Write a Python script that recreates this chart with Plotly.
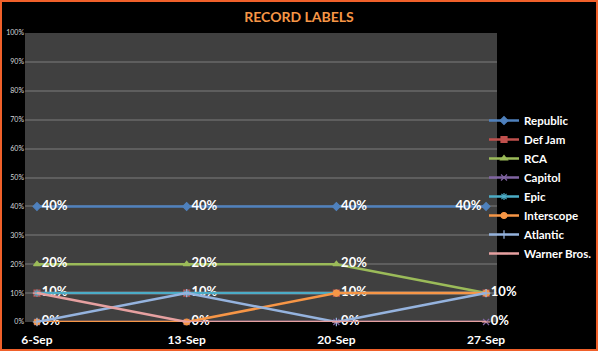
import plotly.graph_objects as go

categories = ["6-Sep", "13-Sep", "20-Sep", "27-Sep"]
series_names = ["Republic", "Def Jam", "RCA", "Capitol", "Epic", "Interscope", "Atlantic", "Warner Bros."]
republic = [0.40, 0.40, 0.40, 0.40]
def_jam = [0.10, 0.10, 0.10, 0.10]
rca = [0.20, 0.20, 0.20, 0.10]
capitol = [0.0, 0.0, 0.0, 0.0]
epic = [0.10, 0.10, 0.10, 0.10]
interscope = [0.0, 0.0, 0.10, 0.10]
atlantic = [0.0, 0.10, 0.0, 0.10]
warner = [0.10, 0.0, 0.0, 0.0]
y_ticks = [0, 0.1, 0.2, 0.3, 0.4, 0.5, 0.6, 0.7, 0.8, 0.9, 1.0]
y_tick_labels = ["0%", "10%", "20%", "30%", "40%", "50%", "60%", "70%", "80%", "90%", "100%"]

values = [republic, def_jam, rca, capitol, epic, interscope, atlantic, warner]
colors = ["#4F81BD", "#C0504D", "#9BBB59", "#8064A2", "#4BACC6", "#F79646", "#95B3DE", "#E6A0A0"]
symbols = ["diamond", "square", "triangle-up", "x-thin-open", "asterisk-open", "circle", "cross-thin-open", "line-ew-open"]

W, H = 598, 351
L, R, T, B = 25, 101, 33, 29
pw, ph = W - L - R, H - T - B

fig = go.Figure()
seen = set()
for name, vals, col, sym in zip(series_names, values, colors, symbols):
    texts, positions = [], []
    for i, v in enumerate(vals):
        key = (i, round(v, 4))
        if key in seen:
            texts.append("")
        else:
            seen.add(key)
            texts.append(f"{round(v*100)}%")
        positions.append("middle left" if (name == "Republic" and i == len(vals) - 1) else "middle right")
    fig.add_trace(go.Scatter(
        x=categories, y=vals, name=name, mode="lines+markers+text",
        line=dict(color=col, width=2.5),
        marker=dict(symbol=sym, size=6, color=col, line=dict(color=col, width=1.2)),
        text=texts, textposition=positions,
        textfont=dict(family="Lato", size=13, color="white", weight="bold"),
        cliponaxis=False,
    ))

fig.update_layout(
    width=W, height=H,
    margin=dict(l=L, r=R, t=T, b=B, autoexpand=False),
    paper_bgcolor="black", plot_bgcolor="#404040",
    title=dict(text="<b>RECORD LABELS</b>", x=0.5, xref="container", xanchor="center",
               y=1 - 17 / H, yanchor="middle",
               font=dict(family="Lato", size=14, color="#F79646")),
    showlegend=True,
    legend=dict(x=(484 - L) / pw, xanchor="left", y=1 - (106 - T) / ph, yanchor="top",
                font=dict(family="Lato", size=11.5, color="white", weight="bold"),
                bgcolor="rgba(0,0,0,0)", itemwidth=30, tracegroupgap=0),
    font=dict(family="Lato", color="white"),
)
fig.update_xaxes(
    type="category", range=[-0.08, 3.073], showgrid=False, zeroline=False,
    showline=False, ticks="", ticklabelstandoff=9,
    tickfont=dict(family="Lato", size=12, color="white", weight="bold"),
)
fig.update_yaxes(
    range=[0, 1.0], tickvals=y_ticks, ticktext=y_tick_labels,
    showgrid=True, gridcolor="#5E5E5E", gridwidth=1.5, zeroline=False,
    tickfont=dict(family="Lato", size=7, color="#D8D8D8"), ticks="",
)
fig.add_shape(type="rect", xref="paper", yref="paper",
              x0=-(L - 1) / pw, x1=1 + (R - 1) / pw, y0=-(B - 1) / ph, y1=1 + (T - 1) / ph,
              line=dict(color="#F0602A", width=2))

fig.write_html("out.html")
